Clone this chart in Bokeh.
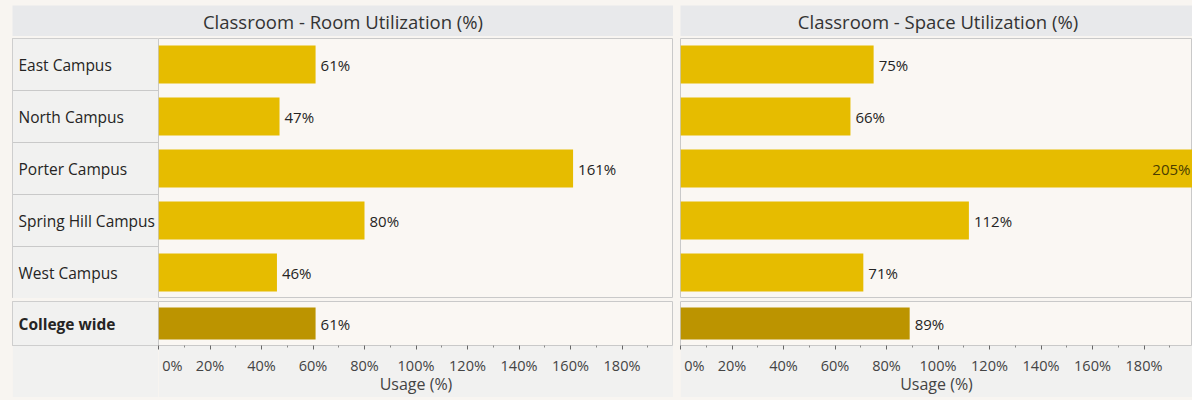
from bokeh.plotting import figure
from bokeh.models import ColumnDataSource, FactorRange, Range1d, FixedTicker, PrintfTickFormatter, Spacer
from bokeh.layouts import row, column
from bokeh.core.properties import value
from bokeh.embed import file_html
from bokeh.resources import INLINE

# ---------------- data ----------------
campuses = ["East Campus", "North Campus", "Porter Campus", "Spring Hill Campus", "West Campus"]
overall = ["College wide"]
room_util = [61, 47, 161, 80, 46]
room_overall = [61]
space_util = [75, 66, 205, 112, 71]
space_overall = [89]
tick_values = [0, 20, 40, 60, 80, 100, 120, 140, 160, 180]
minor_tick_values = [10, 30, 50, 70, 90, 110, 130, 150, 170, 190]
panel_titles = ["Classroom - Room Utilization (%)", "Classroom - Space Utilization (%)"]
axis_title = "Usage (%)"

# ---------------- style ----------------
FONT = "Open Sans"
BAR = "#E6BC00"
BAR_DARK = "#BC9400"
PLOT_BG = "#FAF7F3"
CELL_BG = "#F1F1F0"
HEAD_BG = "#E8E9EB"
PAGE_BG = "#F8F5F1"
LINE = "#C9C9C9"
TEXT = "#252423"
INSIDE_TEXT = "#4A3D00"

LABEL_W = 146
DATA_W_L = 515
DATA_W_R = 512
TOP_H = 260
BOT_FRAME_H = 44
AXIS_H = 52
HEAD_H = 31


def base_fig(width, height, x_range, y_range, axis=False, border=PAGE_BG):
    p = figure(width=width, height=height, x_range=x_range, y_range=y_range,
               toolbar_location=None, output_backend="svg",
               x_axis_location="below" if axis else None, y_axis_location=None,
               min_border=0, min_border_left=0, min_border_right=0,
               min_border_top=0, min_border_bottom=AXIS_H if axis else 0)
    p.background_fill_color = PLOT_BG
    p.border_fill_color = border
    p.outline_line_color = LINE
    p.grid.visible = False
    return p


def header_fig(width, x_range, x_center, text):
    p = figure(width=width, height=HEAD_H, x_range=x_range, y_range=Range1d(0, 1),
               toolbar_location=None, output_backend="svg",
               x_axis_location=None, y_axis_location=None,
               min_border=0, min_border_left=0, min_border_right=0,
               min_border_top=0, min_border_bottom=0)
    p.background_fill_color = HEAD_BG
    p.border_fill_color = HEAD_BG
    p.outline_line_color = None
    p.grid.visible = False
    p.text(x=[x_center], y=[0.5], text=[text], text_font=value(FONT), text_font_size="18.5px",
           text_align="center", text_baseline="middle", text_color="#333333")
    return p


def add_bars(p, cats, vals, color, x_end):
    xs, aligns, offs, cols = [], [], [], []
    for v in vals:
        if v > x_end:
            xs.append(x_end); aligns.append("right"); offs.append(-2); cols.append(INSIDE_TEXT)
        else:
            xs.append(v); aligns.append("left"); offs.append(5); cols.append(TEXT)
    src = ColumnDataSource(dict(cat=cats, val=vals, lx=xs, align=aligns, off=offs, col=cols,
                                label=[f"{v}%" for v in vals]))
    p.hbar(y="cat", left=0, right="val", height=0.73, source=src, fill_color=color, line_color=None)
    p.text(x="lx", y="cat", text="label", source=src, text_align="align", x_offset="off",
           text_baseline="middle", text_font=value(FONT), text_font_size="15px", text_color="col")


def style_axis(p):
    ax = p.xaxis[0]
    ax.ticker = FixedTicker(ticks=tick_values, minor_ticks=minor_tick_values)
    ax.formatter = PrintfTickFormatter(format="%d%%")
    ax.major_label_overrides = {0: "\u00a00%"}
    ax.axis_label = axis_title
    ax.axis_line_color = None
    ax.major_tick_in = 0
    ax.major_tick_out = 4
    ax.minor_tick_in = 0
    ax.minor_tick_out = 2
    ax.major_tick_line_color = "#666666"
    ax.minor_tick_line_color = "#888888"
    ax.major_label_text_font = FONT
    ax.major_label_text_font_size = "14.5px"
    ax.major_label_text_color = "#444444"
    ax.major_label_standoff = 6
    ax.axis_label_text_font = FONT
    ax.axis_label_text_font_size = "16px"
    ax.axis_label_text_font_style = "normal"
    ax.axis_label_text_color = "#444444"
    ax.axis_label_standoff = -5


def label_fig(y_range, cats, height, bold, axis_space=False):
    p = figure(width=LABEL_W, height=height, x_range=Range1d(0, LABEL_W), y_range=y_range,
               toolbar_location=None, output_backend="svg",
               x_axis_location=None, y_axis_location=None,
               min_border=0, min_border_left=0, min_border_right=0,
               min_border_top=0, min_border_bottom=AXIS_H if axis_space else 0)
    p.background_fill_color = CELL_BG
    p.border_fill_color = CELL_BG if axis_space else PAGE_BG
    p.outline_line_color = LINE
    p.grid.visible = False
    p.hbar(y=cats, left=0, right=LABEL_W, height=1, fill_color=CELL_BG, line_color=LINE)
    p.text(x=6, y=cats, text=cats, text_font=value(FONT), text_font_size="15.5px",
           text_font_style="bold" if bold else "normal",
           text_align="left", text_baseline="middle", text_color=TEXT)
    return p


# ---------------- left panel ----------------
xr_L = Range1d(0, 200)
topL = base_fig(DATA_W_L, TOP_H, xr_L, FactorRange(factors=list(reversed(campuses))))
add_bars(topL, campuses, room_util, BAR, 200)
botL = base_fig(DATA_W_L, BOT_FRAME_H + AXIS_H, xr_L, FactorRange(factors=overall), axis=True, border=CELL_BG)
add_bars(botL, overall, room_overall, BAR_DARK, 200)
style_axis(botL)
labTop = label_fig(topL.y_range, campuses, TOP_H, False)
labBot = label_fig(botL.y_range, overall, BOT_FRAME_H + AXIS_H, True, axis_space=True)
headL = header_fig(LABEL_W + DATA_W_L, Range1d(0, 1), 0.5, panel_titles[0])

left_panel = column(headL, Spacer(width=LABEL_W + DATA_W_L, height=2),
                    row(labTop, topL), Spacer(width=LABEL_W + DATA_W_L, height=3),
                    row(labBot, botL))

# ---------------- right panel ----------------
x_end_R = 200 * DATA_W_R / DATA_W_L
xr_R = Range1d(0, x_end_R)
topR = base_fig(DATA_W_R, TOP_H, xr_R, FactorRange(factors=list(reversed(campuses))))
add_bars(topR, campuses, space_util, BAR, x_end_R)
botR = base_fig(DATA_W_R, BOT_FRAME_H + AXIS_H, xr_R, FactorRange(factors=overall), axis=True, border=CELL_BG)
add_bars(botR, overall, space_overall, BAR_DARK, x_end_R)
style_axis(botR)
headR = header_fig(DATA_W_R, xr_R, 100, panel_titles[1])

right_panel = column(headR, Spacer(width=DATA_W_R, height=2), topR,
                     Spacer(width=DATA_W_R, height=3), botR)

root = column(Spacer(width=1192, height=5),
              row(Spacer(width=12, height=392), left_panel, Spacer(width=7, height=392), right_panel),
              Spacer(width=1192, height=3),
              styles={"background-color": PAGE_BG})

open("out.html", "w").write(file_html(root, INLINE))
